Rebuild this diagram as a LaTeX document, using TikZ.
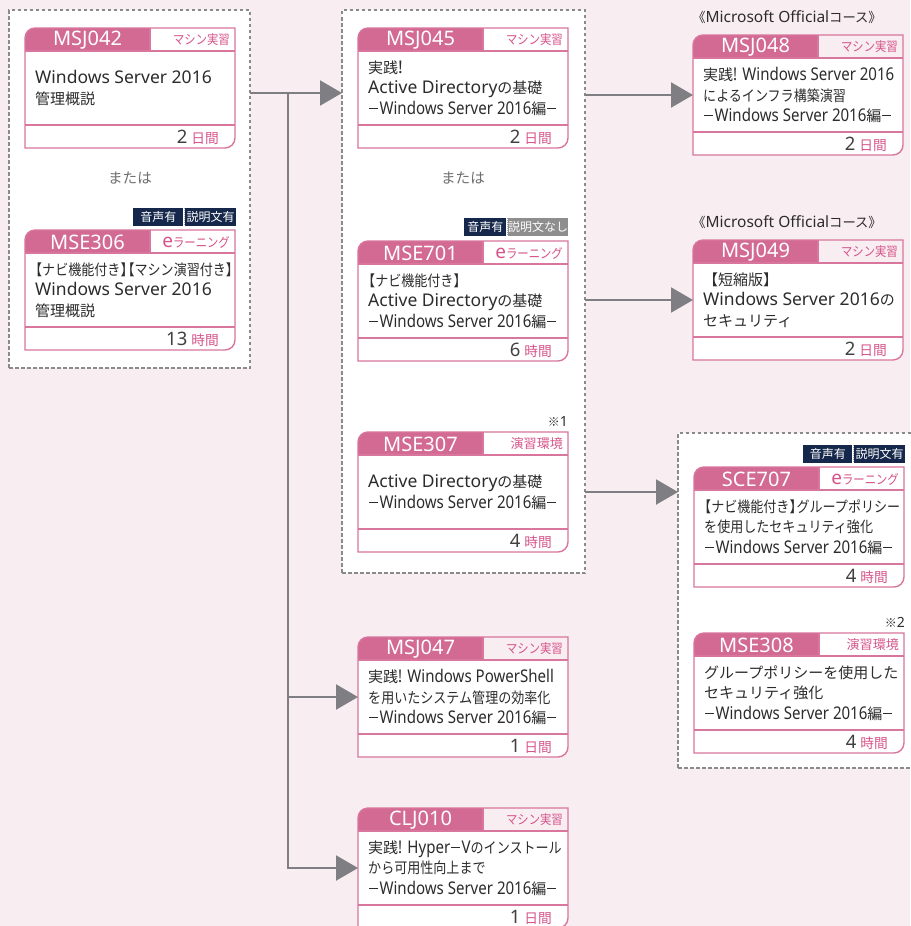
\documentclass[tikz,border=0pt]{standalone}
\usepackage{fontspec}
\setmainfont{Noto Sans}
\newfontfamily\latc[FakeStretch=0.86]{Noto Sans}
\newfontfamily\jpf[Scale=0.857]{Noto Sans CJK JP}
\newfontfamily\jpp[Scale=0.857,FakeStretch=0.87]{Noto Sans CJK JP}
\usetikzlibrary{arrows.meta}
\definecolor{bgpink}{HTML}{F8EDF1}
\definecolor{hdrpink}{HTML}{D26A93}
\definecolor{linepink}{HTML}{D9769E}
\definecolor{catpink}{HTML}{D6548A}
\definecolor{navy}{HTML}{15284B}
\definecolor{badgegray}{HTML}{8E8E8E}
\definecolor{conngray}{HTML}{7F7F83}
\definecolor{dashgray}{HTML}{8A8A8A}
\definecolor{textdark}{HTML}{2C2C2C}
\definecolor{numgray}{HTML}{404040}
\definecolor{orgray}{HTML}{6E6E6E}
\newcommand\J[1]{{\jpf #1}}
\newcommand\JP[1]{{\jpp #1}}
\newcommand\C[1]{{\latc #1}}
% half-width brackets
\newcommand\ob{{\jpp\hspace{-6pt}【}}
\newcommand\cb{{\jpp 】\hspace{-6pt}}}
\newcommand\dsh{\kern0.8pt\rule[5.2pt]{9pt}{1.3pt}\kern1.6pt}
\newcommand\ecat{{\fontsize{19}{16}\selectfont e}\JP{ラーニング}}
\newcommand\subtl{\dsh\C{Windows Server 2016}\J{編}\dsh}
% #1 name #2 x #3 y #4 code #5 category #6 body #7 number #8 unit
\newcommand\course[8]{%
  \fill[white] (#2,#3+23) -- (#2+210,#3+23) -- (#2+210,#3+110)
     arc[start angle=0,end angle=90,radius=10] -- (#2,#3+120) -- cycle;
  \fill[hdrpink] (#2,#3+23) -- (#2,#3+10)
     arc[start angle=180,end angle=270,radius=10] -- (#2+125,#3) -- (#2+125,#3+23) -- cycle;
  \draw[cardline] (#2,#3+120) -- (#2,#3+10)
     arc[start angle=180,end angle=270,radius=10] -- (#2+210,#3) -- (#2+210,#3+110)
     arc[start angle=0,end angle=90,radius=10] -- cycle;
  \draw[cardline] (#2,#3+23) -- (#2+210,#3+23) (#2,#3+97) -- (#2+210,#3+97)
     (#2+125,#3) -- (#2+125,#3+23);
  \node[cardframe] (#1) at (#2+105,#3+60) {};
  \node[codetext] (#1-code) at (#2+62.5,#3+12) {#4};
  \node[cattext,anchor=east] (#1-cat) at (#2+205,#3+12) {#5};
  \node[bodytext,anchor=west] (#1-body) at (#2+10,#3+60) {#6};
  \node[foottext,anchor=east] (#1-foot) at (#2+194,#3+109)
     {{\color{numgray}#7}\hspace{4pt}{\color{catpink}\fontsize{16}{16}\selectfont\jpf #8}};
}
% #1 name #2 right x #3 center y #4 w1 #5 w2 #6 label2 #7 fill2
\newcommand\badge[7]{%
  \node[badgebox,fill=#7,minimum width=#5pt,anchor=east] (#1-doc) at (#2,#3) {#6};
  \node[badgebox,fill=navy,minimum width=#4pt,anchor=east] (#1-voice) at ([xshift=-1.6pt]#1-doc.west) {音声有};
  \draw[black!35,line width=0.8pt,dash pattern=on 1pt off 1pt] ([xshift=-0.8pt]#1-doc.north west) -- ([xshift=-0.8pt]#1-doc.south west);
}
\begin{document}
\begin{tikzpicture}[x=1pt,y=-1pt,
  cardline/.style={draw=linepink,line width=1.4pt},
  cardframe/.style={minimum width=210pt,minimum height=120pt,inner sep=0pt,outer sep=0pt},
  codetext/.style={text=white,inner sep=0pt,font=\fontsize{20}{20}\selectfont},
  cattext/.style={text=catpink,inner sep=0pt,font=\fontsize{15.2}{16}\selectfont},
  bodytext/.style={text=textdark,inner sep=0pt,align=left,font=\fontsize{17.5}{20.5}\selectfont},
  foottext/.style={inner sep=0pt,font=\fontsize{18.5}{20}\selectfont},
  dbox/.style={draw=dashgray,dash pattern=on 3.5pt off 2.5pt,line width=1.5pt,fill=white,inner sep=0pt,outer sep=0pt},
  badgebox/.style={text=white,inner sep=0pt,outer sep=0pt,minimum height=18pt,font=\fontsize{14}{14}\selectfont\jpf},
  conn/.style={draw=conngray,line width=2.2pt,-{Triangle[length=22pt,width=25pt]}},
  ortext/.style={text=orgray,inner sep=0pt,font=\fontsize{17}{17}\selectfont\jpf},
  headnote/.style={text=textdark,inner sep=0pt,font=\fontsize{15.5}{16}\selectfont},
  refmark/.style={text=textdark,inner sep=0pt,font=\fontsize{14}{14}\selectfont}
]
\useasboundingbox (0,0) rectangle (910,926);
\fill[bgpink] (0,0) rectangle (910,926);
% group boxes
\node[dbox,minimum width=241pt,minimum height=358pt] (box1) at (129.5,189) {};
\node[dbox,minimum width=243pt,minimum height=563pt] (box2) at (463.5,291.5) {};
\node[dbox,minimum width=240pt,minimum height=335pt] (box3) at (798,600.5) {};
% cards
\course{msj042}{25}{28}{MSJ042}{\JP{マシン実習}}{Windows Server 2016\\\J{管理概説}}{2}{日間}
\course{mse306}{25}{230}{MSE306}{\ecat}{\ob\JP{ナビ機能付き}\cb\ob\JP{マシン演習付き}\cb\\Windows Server 2016\\\J{管理概説}}{13}{時間}
\course{msj045}{358}{28}{MSJ045}{\JP{マシン実習}}{\J{実践}!\\Active Directory\J{の基礎}\\\subtl}{2}{日間}
\course{mse701}{358}{241}{MSE701}{\ecat}{\ob\JP{ナビ機能付き}\cb\\Active Directory\J{の基礎}\\\subtl}{6}{時間}
\course{mse307}{358}{432}{MSE307}{\J{演習環境}}{Active Directory\J{の基礎}\\\subtl}{4}{時間}
\course{msj047}{358}{637}{MSJ047}{\JP{マシン実習}}{\J{実践}\C{! Windows PowerShell}\\\JP{を用いたシステム管理の効率化}\\\subtl}{1}{日間}
\course{clj010}{358}{808}{CLJ010}{\JP{マシン実習}}{\J{実践}\C{! Hyper}\dsh\C{V}\JP{のインストール}\\\JP{から可用性向上まで}\\\subtl}{1}{日間}
\course{msj048}{693}{35}{MSJ048}{\JP{マシン実習}}{\J{実践}\C{! Windows Server 2016}\\\JP{によるインフラ構築演習}\\\subtl}{2}{日間}
\course{msj049}{693}{240}{MSJ049}{\JP{マシン実習}}{\J{【短縮版】}\\Windows Server 2016\J{の}\\\J{セキュリティ}}{2}{日間}
\course{sce707}{694}{467}{SCE707}{\ecat}{\ob\JP{ナビ機能付き}\cb\JP{グループポリシー}\\\JP{を使用したセキュリティ強化}\\\subtl}{4}{時間}
\course{mse308}{694}{633}{MSE308}{\J{演習環境}}{\J{グループポリシーを使用した}\\\J{セキュリティ強化}\\\subtl}{4}{時間}
% badges
\badge{bmse306}{236}{216.5}{50}{51}{説明文有}{navy}
\badge{bmse701}{568}{227}{42}{58}{説明文なし}{badgegray}
\badge{bsce707}{905}{453.5}{49}{51}{説明文有}{navy}
% texts
\node[ortext] (or1) at (130,178) {または};
\node[ortext] (or2) at (463,178) {または};
\node[headnote] (off1) at (787,17) {\J{《}Microsoft Official\J{コース》}};
\node[headnote] (off2) at (787,222) {\J{《}Microsoft Official\J{コース》}};
\node[refmark,anchor=east] (ref1) at (568,421) {\J{※}1};
\node[refmark,anchor=east] (ref2) at (905,622) {\J{※}2};
% connectors
\coordinate (j1) at (288,93);
\draw[conn] (box1.east |- j1) -- (box2.west |- j1);
\draw[conn] (j1) -- (j1 |- clj010) -- (clj010.west);
\draw[conn] (j1 |- msj047) -- (msj047.west);
\draw[conn] (box2.east |- msj048) -- (msj048.west);
\draw[conn] (box2.east |- msj049) -- (msj049.west);
\draw[conn] (box2.east |- mse307) -- (box3.west |- mse307);
\end{tikzpicture}
\end{document}
